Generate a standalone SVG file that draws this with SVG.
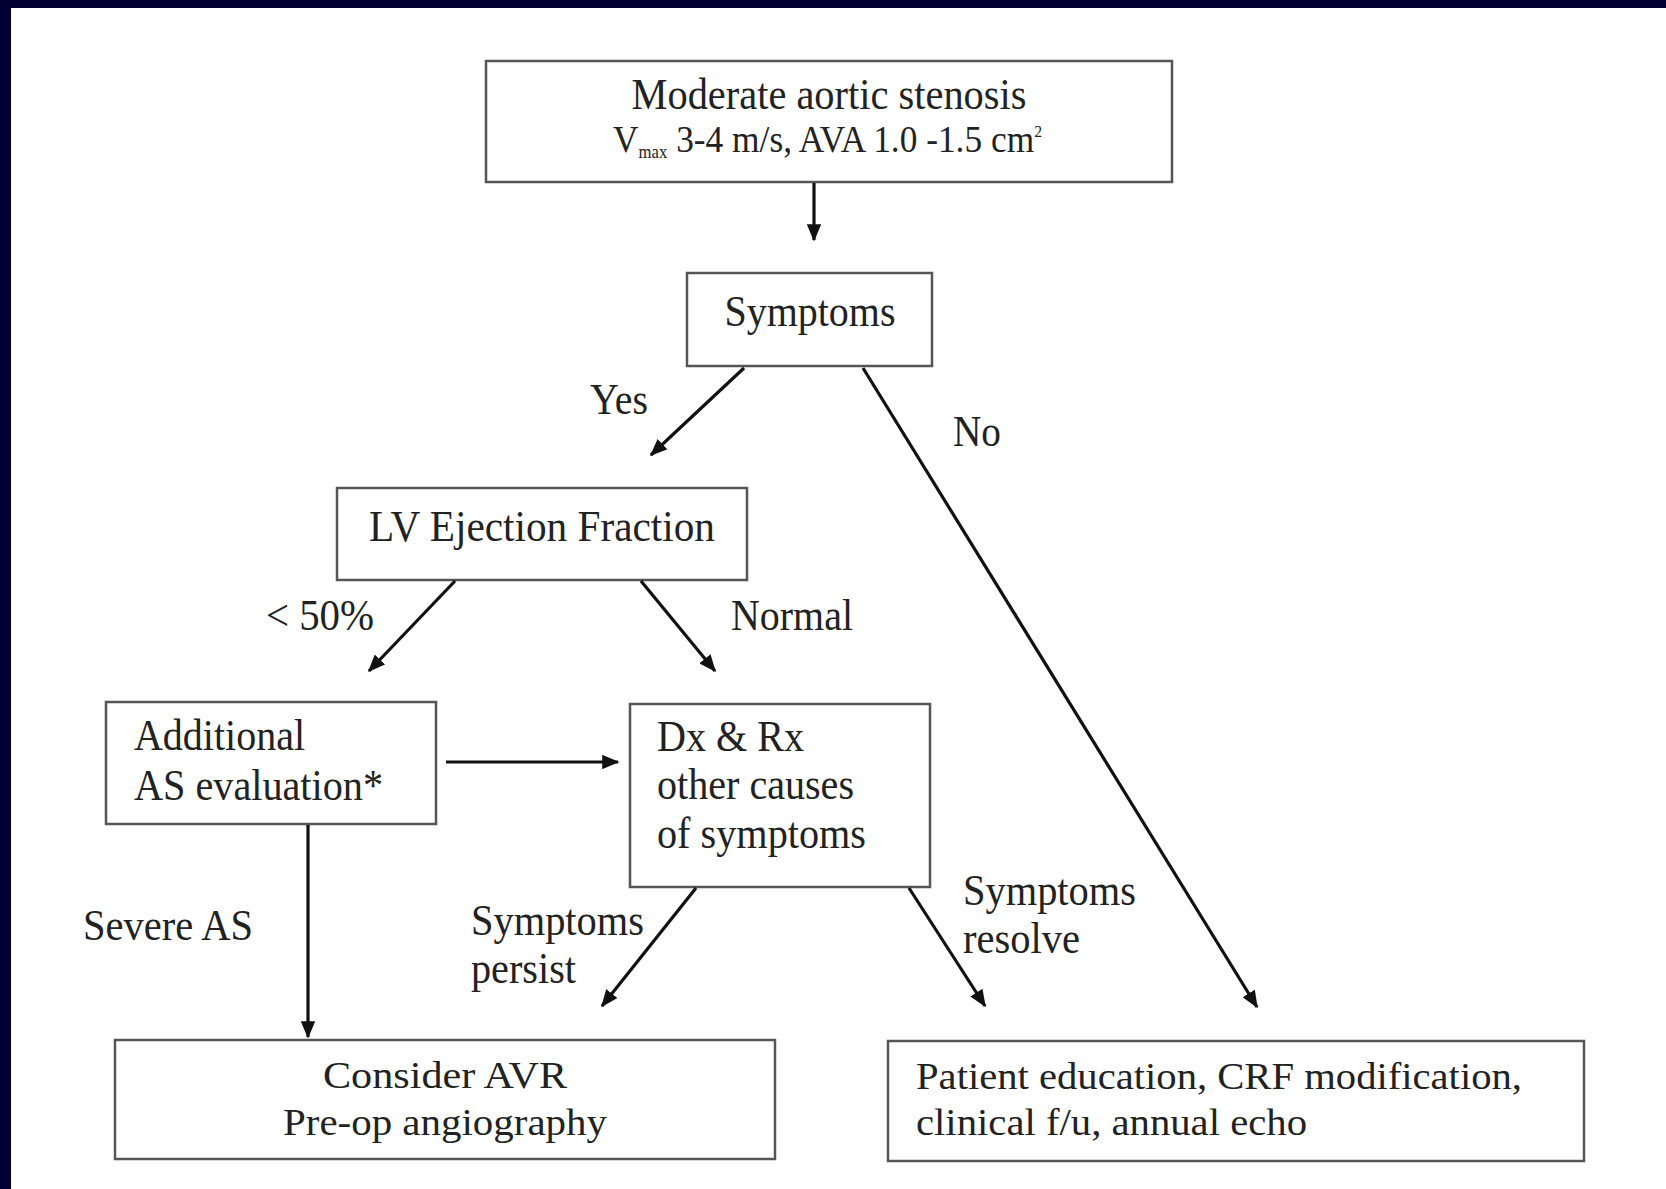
<svg xmlns="http://www.w3.org/2000/svg" width="1666" height="1189" viewBox="0 0 1666 1189">
<defs>
<style>
.box{fill:#fff;stroke:#555;stroke-width:2.5}
.t{font-family:"Liberation Serif","Times New Roman",serif;font-size:44px;fill:#222}
.s{font-family:"Liberation Serif","Times New Roman",serif;font-size:38px;fill:#222}
.c{stroke:#111;stroke-width:3.2;fill:none}
</style>
<marker id="ah" viewBox="0 0 12 10" refX="11" refY="5" markerWidth="5.5" markerHeight="4.5" markerUnits="strokeWidth" orient="auto">
<path d="M0,0 L12,5 L0,10 Z" fill="#111"/>
</marker>
</defs>
<rect x="0" y="0" width="1666" height="1189" fill="#000033"/>
<rect x="11" y="8" width="1655" height="1181" fill="#fff"/>

<g id="n-moderate">
<rect class="box" x="486" y="61" width="686" height="121"/>
<text class="t" x="829" y="109" text-anchor="middle" textLength="395" lengthAdjust="spacingAndGlyphs">Moderate aortic stenosis</text>
<text class="s" x="613" y="152" font-size="34" transform="translate(613 0) scale(0.93 1) translate(-613 0)">V<tspan font-size="18" dy="6">max</tspan><tspan dy="-6"> 3-4 m/s, AVA 1.0 -1.5 cm</tspan><tspan font-size="17" dy="-15">2</tspan></text>
</g>

<g id="n-symptoms">
<rect class="box" x="687" y="273" width="245" height="93"/>
<text class="t" x="810" y="326" text-anchor="middle" textLength="171" lengthAdjust="spacingAndGlyphs">Symptoms</text>
</g>

<g id="n-lvef">
<rect class="box" x="337" y="488" width="410" height="92"/>
<text class="t" x="542" y="541" text-anchor="middle" textLength="346" lengthAdjust="spacingAndGlyphs">LV Ejection Fraction</text>
</g>

<g id="n-additional">
<rect class="box" x="106" y="702" width="330" height="122"/>
<text class="t" x="134" y="750" textLength="171" lengthAdjust="spacingAndGlyphs">Additional</text>
<text class="t" x="134" y="800" textLength="249" lengthAdjust="spacingAndGlyphs">AS evaluation*</text>
</g>

<g id="n-dxrx">
<rect class="box" x="630" y="704" width="300" height="183"/>
<text class="t" x="657" y="751" textLength="147" lengthAdjust="spacingAndGlyphs">Dx &amp; Rx</text>
<text class="t" x="657" y="799" textLength="197" lengthAdjust="spacingAndGlyphs">other causes</text>
<text class="t" x="657" y="848" textLength="209" lengthAdjust="spacingAndGlyphs">of symptoms</text>
</g>

<g id="n-avr">
<rect class="box" x="115" y="1040" width="660" height="119"/>
<text class="s" x="445" y="1088" text-anchor="middle" textLength="244" lengthAdjust="spacingAndGlyphs">Consider AVR</text>
<text class="s" x="445" y="1135" text-anchor="middle" textLength="324" lengthAdjust="spacingAndGlyphs">Pre-op angiography</text>
</g>

<g id="n-education">
<rect class="box" x="888" y="1041" width="696" height="120"/>
<text class="s" x="916" y="1089" textLength="606" lengthAdjust="spacingAndGlyphs">Patient education, CRF modification,</text>
<text class="s" x="916" y="1135" textLength="391" lengthAdjust="spacingAndGlyphs">clinical f/u, annual echo</text>
</g>

<g id="connectors">
<line class="c" x1="814" y1="183" x2="814" y2="240" marker-end="url(#ah)"/>
<line class="c" x1="744" y1="368" x2="651" y2="455" marker-end="url(#ah)"/>
<line class="c" x1="863" y1="368" x2="1257" y2="1007" marker-end="url(#ah)"/>
<line class="c" x1="455" y1="581" x2="369" y2="671" marker-end="url(#ah)"/>
<line class="c" x1="641" y1="581" x2="715" y2="671" marker-end="url(#ah)"/>
<line class="c" x1="446" y1="762" x2="618" y2="762" marker-end="url(#ah)"/>
<line class="c" x1="308" y1="825" x2="308" y2="1037" marker-end="url(#ah)"/>
<line class="c" x1="696" y1="888" x2="602" y2="1006" marker-end="url(#ah)"/>
<line class="c" x1="909" y1="888" x2="985" y2="1006" marker-end="url(#ah)"/>
<g id="labels">
<text class="t" x="590" y="414" textLength="58" lengthAdjust="spacingAndGlyphs">Yes</text>
<text class="t" x="953" y="446" textLength="48" lengthAdjust="spacingAndGlyphs">No</text>
<text class="t" x="266" y="630" textLength="108" lengthAdjust="spacingAndGlyphs">&lt; 50%</text>
<text class="t" x="731" y="630" textLength="122" lengthAdjust="spacingAndGlyphs">Normal</text>
<text class="t" x="83" y="940" textLength="170" lengthAdjust="spacingAndGlyphs">Severe AS</text>
<text class="t" x="471" y="935" textLength="173" lengthAdjust="spacingAndGlyphs">Symptoms</text>
<text class="t" x="471" y="983" textLength="105" lengthAdjust="spacingAndGlyphs">persist</text>
<text class="t" x="963" y="905" textLength="173" lengthAdjust="spacingAndGlyphs">Symptoms</text>
<text class="t" x="963" y="953" textLength="117" lengthAdjust="spacingAndGlyphs">resolve</text>
</g>
</g>
</svg>
